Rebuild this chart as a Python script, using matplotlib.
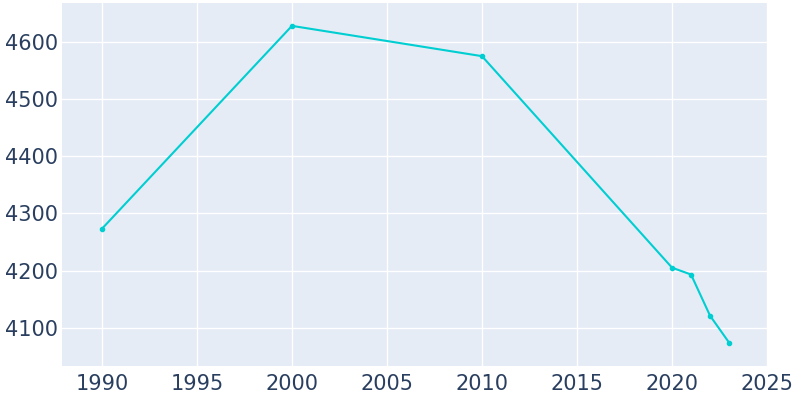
import matplotlib
matplotlib.use("Agg")
import matplotlib.pyplot as plt

years = [1990, 2000, 2010, 2020, 2021, 2022, 2023]
population = [4273, 4628, 4575, 4205, 4193, 4121, 4074]
xticks = [1990, 1995, 2000, 2005, 2010, 2015, 2020, 2025]
yticks = [4100, 4200, 4300, 4400, 4500, 4600]

fig = plt.figure(figsize=(8, 4), dpi=100)
ax = fig.add_axes([0.0775, 0.085, 0.8825, 0.9075])
ax.set_facecolor("#E5ECF6")
ax.plot(years, population, color="#00CED1", linewidth=1.5, marker="o", markersize=3)
ax.set_xlim(1987.9, 2025.05)
ax.set_ylim(4033, 4668)
ax.set_xticks(xticks)
ax.set_yticks(yticks)
ax.grid(True, color="white", linewidth=1)
ax.set_axisbelow(True)
for s in ax.spines.values():
    s.set_visible(False)
ax.tick_params(length=0, labelsize=15, colors="#2A3F5F")
ax.tick_params(axis="y", pad=3)
ax.tick_params(axis="x", pad=6)
fig.savefig("out.png")
